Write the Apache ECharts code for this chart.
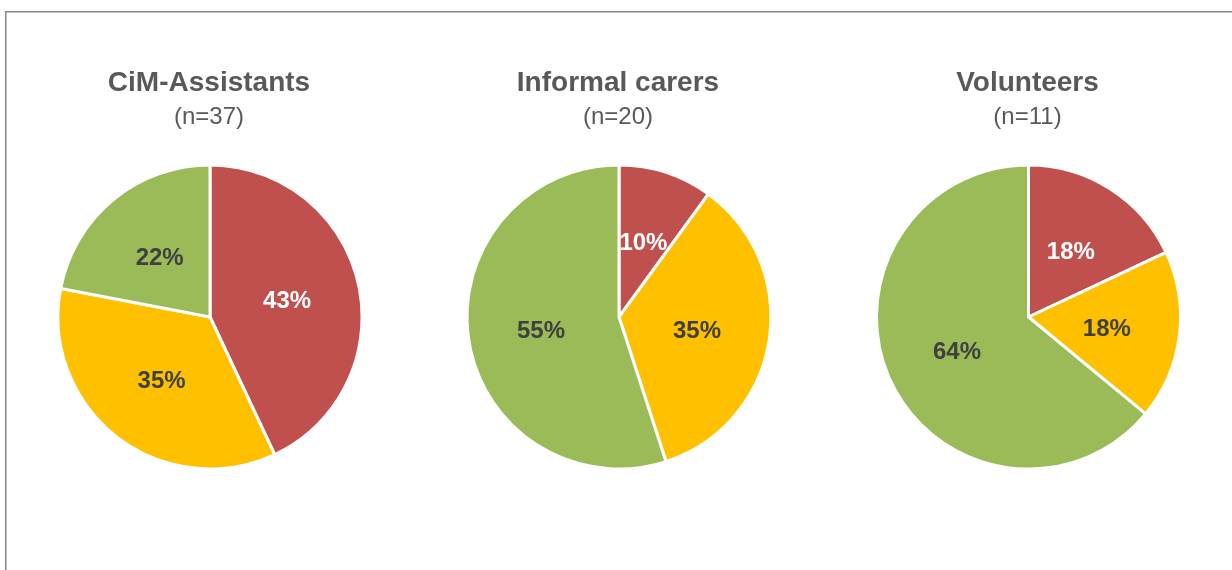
<!DOCTYPE html>
<html>
<head>
<meta charset="utf-8">
<script src="https://cdn.jsdelivr.net/npm/echarts@6/dist/echarts.min.js"></script>
<style>
  html, body { margin: 0; padding: 0; background: #fff; }
  #chart { width: 1232px; height: 570px; }
</style>
</head>
<body>
<div id="chart"></div>
<script>
// Data
const groups = ['CiM-Assistants', 'Informal carers', 'Volunteers'];
const sampleSizes = ['(n=37)', '(n=20)', '(n=11)'];
const categories = ['Red', 'Yellow', 'Green'];
const cimAssistants = [43, 35, 22];
const informalCarers = [10, 35, 55];
const volunteers = [18, 18, 64];

const seriesValues = [cimAssistants, informalCarers, volunteers];
const colors = ['#C0504D', '#FFC000', '#9BBB59'];
const labelColors = ['#FFFFFF', '#404040', '#404040'];
const centersX = [210, 619, 1028.5];
const centerY = 317;
const radius = 152;
const FONT = 'Liberation Sans, Arial, sans-serif';

const chart = echarts.init(document.getElementById('chart'), null, { renderer: 'canvas' });

const graphics = [{
  type: 'rect',
  shape: { x: 5.75, y: 11.75, width: 1400, height: 800 },
  style: { fill: 'none', stroke: '#868686', lineWidth: 1.5 },
  silent: true
}];
groups.forEach((g, i) => {
  graphics.push({
    type: 'text', x: centersX[i] - 1, y: 83, silent: true,
    style: { text: g, font: 'bold 28px ' + FONT, fill: '#595959', textAlign: 'center', textVerticalAlign: 'middle' }
  });
  graphics.push({
    type: 'text', x: centersX[i] - 1, y: 117, silent: true,
    style: { text: sampleSizes[i], font: '24px ' + FONT, fill: '#595959', textAlign: 'center', textVerticalAlign: 'middle' }
  });
});

const option = {
  animation: false,
  backgroundColor: '#ffffff',
  graphic: graphics,
  series: seriesValues.map((vals, i) => ({
    type: 'pie',
    center: [centersX[i], centerY],
    radius: [0, radius],
    startAngle: 90,
    clockwise: true,
    avoidLabelOverlap: false,
    itemStyle: { borderColor: '#ffffff', borderWidth: 3 },
    label: {
      show: true,
      position: 'inside',
      formatter: '{c}%',
      fontFamily: FONT,
      fontSize: 24,
      fontWeight: 'bold',
      offset: [0, 2]
    },
    labelLine: { show: false },
    emphasis: { disabled: true },
    data: vals.map((v, j) => ({
      name: categories[j],
      value: v,
      itemStyle: { color: colors[j] },
      label: { color: labelColors[j] }
    }))
  }))
};

chart.setOption(option);
</script>
</body>
</html>
